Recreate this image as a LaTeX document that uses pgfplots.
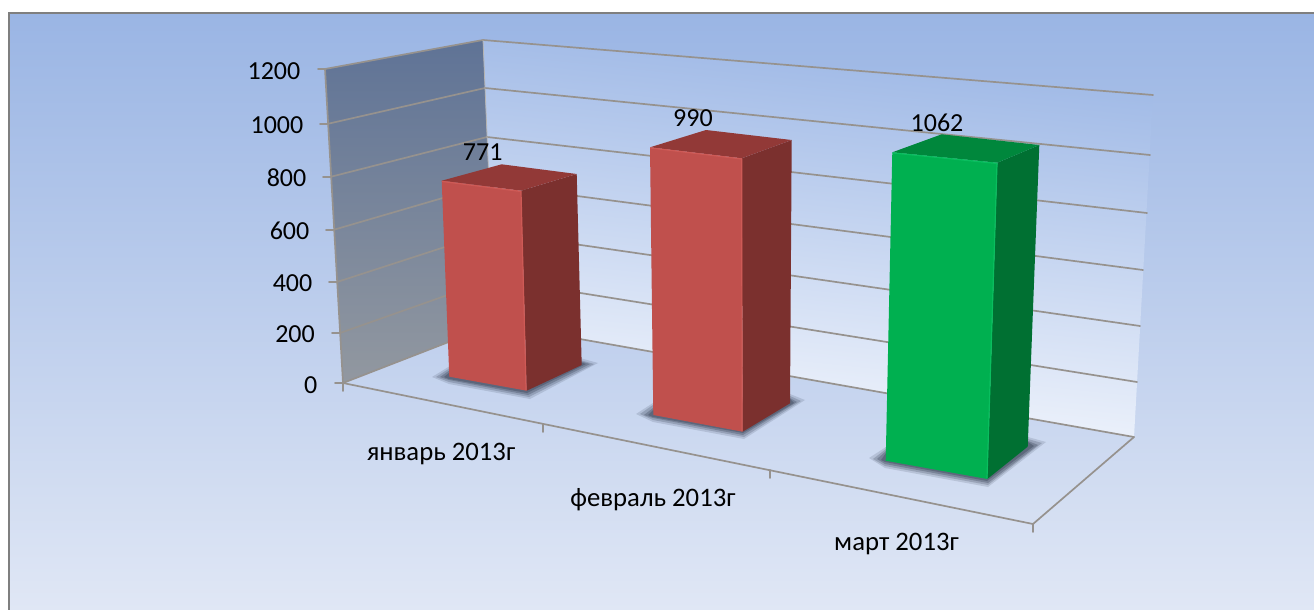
\documentclass[border=0pt]{standalone}
\usepackage{fontspec}
\setmainfont{Carlito}
\usepackage{pgfplots}
\pgfplotsset{compat=1.18}
\definecolor{bgtop}{RGB}{154,181,228}
\definecolor{bgbot}{RGB}{224,231,245}
\definecolor{walltop}{RGB}{95,115,150}
\definecolor{wallbot}{RGB}{146,152,160}
\definecolor{backtop}{RGB}{155,182,229}
\definecolor{backbot}{RGB}{244,247,253}
\definecolor{gridc}{RGB}{150,146,142}
\definecolor{framec}{RGB}{127,127,127}
\definecolor{redF}{RGB}{192,80,77}
\definecolor{redS}{RGB}{123,48,46}
\definecolor{redT}{RGB}{146,57,55}
\definecolor{redE}{RGB}{206,90,86}
\definecolor{grnF}{RGB}{0,176,80}
\definecolor{grnS}{RGB}{0,112,50}
\definecolor{grnT}{RGB}{0,135,60}
\definecolor{grnE}{RGB}{10,190,95}
\definecolor{shad}{RGB}{55,65,85}
\newcommand{\lbl}{\fontsize{26}{31}\selectfont}
\newcommand{\cat}{\fontsize{26.7}{32}\selectfont}
\begin{document}
\begin{tikzpicture}
\begin{axis}[
  at={(0,0)}, anchor=south west,
  scale only axis, width=1314pt, height=610pt,
  xmin=0, xmax=1314, ymin=0, ymax=610, y dir=reverse,
  hide axis, clip=true,
  every axis plot/.append style={line cap=round},
]
% page and background
\addplot[fill=white, draw=none] coordinates {(0,0) (1314,0) (1314,610) (0,610)} --cycle;
\addplot[draw=none, top color=bgtop, bottom color=bgbot] coordinates {(9,13) (1314,13) (1314,610) (9,610)} --cycle;
\addplot[draw=framec, line width=2pt] coordinates {(9,610) (9,13) (1314,13)};
% walls
\addplot[draw=none, top color=walltop, bottom color=wallbot] coordinates {(325,69) (483,40) (495,324) (343,383)} --cycle;
\addplot[draw=none, top color=backtop, bottom color=backbot, shading angle=-6] coordinates {(483,40) (1153,95) (1134,437) (495,324)} --cycle;
% gridlines, left wall
\addplot[draw=gridc, line width=1.7pt] coordinates {(318,69) (325,69) (483,40) (1153,95)};
\addplot[draw=gridc, line width=1.7pt] coordinates {(320,124) (327,124) (485,88) (1150,155)};
\addplot[draw=gridc, line width=1.7pt] coordinates {(323,177) (330,177) (487,137) (1147,213)};
\addplot[draw=gridc, line width=1.7pt] coordinates {(326,230) (333,230) (489,184.5) (1143,270)};
\addplot[draw=gridc, line width=1.7pt] coordinates {(329,282) (337,282) (491,232) (1140,326)};
\addplot[draw=gridc, line width=1.7pt] coordinates {(332,333) (340,333) (493,279) (1137,382)};
\addplot[draw=gridc, line width=1.7pt] coordinates {(335,383) (343,383) (495,324) (1134,437)};
% axis edges and floor
\addplot[draw=gridc, line width=1.7pt] coordinates {(325,69) (343,383) (343,391)};
\addplot[draw=gridc!70!white, line width=0.8pt] coordinates {(483,40) (495,324)};
\addplot[draw=gridc, line width=1.7pt] coordinates {(343,383) (1033,524) (1134,437)};
\addplot[draw=gridc, line width=1.7pt] coordinates {(543,424) (543,432)};
\addplot[draw=gridc, line width=1.7pt] coordinates {(770,470) (770,478)};
\addplot[draw=gridc, line width=1.7pt] coordinates {(1033,524) (1033,532)};
% shadows
\addplot[fill=shad, draw=none, opacity=0.16] coordinates {(432,377) (450,366) (580,358) (598,363) (530,399) (449,384)} --cycle;
\addplot[fill=shad, draw=none, opacity=0.24] coordinates {(436,377) (450,368) (580,360) (594,364) (529,397) (449,382)} --cycle;
\addplot[fill=shad, draw=none, opacity=0.32] coordinates {(440,377) (450,370) (580,361) (590,364) (528,395) (449,380)} --cycle;
\addplot[fill=shad, draw=none, opacity=0.40] coordinates {(444,377) (450,372) (580,362) (586,364) (527,393) (449,379)} --cycle;
\addplot[fill=shad, draw=none, opacity=0.16] coordinates {(636,414) (653,403) (790,394) (805,400) (744,439) (653,422)} --cycle;
\addplot[fill=shad, draw=none, opacity=0.24] coordinates {(640,414) (653,405) (790,396) (801,401) (744,437) (653,420)} --cycle;
\addplot[fill=shad, draw=none, opacity=0.32] coordinates {(644,415) (653,408) (790,398) (797,402) (743,435) (653,418)} --cycle;
\addplot[fill=shad, draw=none, opacity=0.40] coordinates {(648,415) (653,410) (790,399) (794,403) (743,433) (653,417)} --cycle;
\addplot[fill=shad, draw=none, opacity=0.16] coordinates {(869,458) (886,447) (1028,437) (1046,442) (988,487) (885,468)} --cycle;
\addplot[fill=shad, draw=none, opacity=0.24] coordinates {(873,459) (886,449) (1028,439) (1042,443) (988,485) (885,466)} --cycle;
\addplot[fill=shad, draw=none, opacity=0.32] coordinates {(877,459) (886,451) (1028,441) (1038,445) (988,483) (885,464)} --cycle;
\addplot[fill=shad, draw=none, opacity=0.40] coordinates {(881,460) (886,453) (1028,442) (1034,446) (987,481) (885,462)} --cycle;
% bar 1
\addplot[fill=redS, draw=none] coordinates {(521,190.7) (576.7,174) (581.7,365) (526.7,390.7)} --cycle;
\addplot[fill=redT, draw=none] coordinates {(441.7,180.7) (501.7,164.3) (576.7,174) (521,190.7)} --cycle;
\addplot[fill=redF, draw=none] coordinates {(441.7,180.7) (521,190.7) (526.7,390.7) (449.3,376.7)} --cycle;
\addplot[draw=redE, line width=1.2pt] coordinates {(442.5,181.5) (521,191.5) (526,390)};
% bar 2
\addplot[fill=redS, draw=none] coordinates {(741.7,158.3) (791.7,140) (790,403.3) (742.7,431.7)} --cycle;
\addplot[fill=redT, draw=none] coordinates {(650,147.3) (706,130) (791.7,140) (741.7,158.3)} --cycle;
\addplot[fill=redF, draw=none] coordinates {(650,147.3) (741.7,158.3) (742.7,431.7) (653.3,415)} --cycle;
\addplot[draw=redE, line width=1.2pt] coordinates {(651,148) (741.7,159) (742,431)};
% bar 3
\addplot[fill=grnS, draw=none] coordinates {(997.3,162.7) (1039.3,145) (1027.7,446.7) (987.3,479)} --cycle;
\addplot[fill=grnT, draw=none] coordinates {(892.3,152.3) (941.7,134.3) (1039.3,145) (997.3,162.7)} --cycle;
\addplot[fill=grnF, draw=none] coordinates {(892.3,152.3) (997.3,162.7) (987.3,479) (885.7,460.7)} --cycle;
\addplot[draw=grnE, line width=1.2pt] coordinates {(893,153) (997,163.5) (987,478)};
% value labels
\addplot[draw=none, mark=none, point meta=explicit symbolic, nodes near coords,
  nodes near coords style={anchor=center, font=\lbl, text=black, inner sep=0pt}]
  table[x=x, y=y, meta=v] {
x y v
482.7 151.7 771
693 118 990
937 123 1062
};
% category labels
\addplot[draw=none, mark=none, point meta=explicit symbolic, nodes near coords,
  nodes near coords style={anchor=center, font=\cat, text=black, inner sep=0pt}]
  table[x=x, y=y, meta=c, col sep=comma] {
x,y,c
441,454,{январь 2013г}
653,500,{февраль 2013г}
896.5,544,{март 2013г}
};
% value axis labels
\addplot[draw=none, mark=none, point meta=explicit symbolic, nodes near coords,
  nodes near coords style={anchor=east, font=\lbl, text=black, inner sep=0pt}]
  table[x=x, y=y, meta=v] {
x y v
300.5 71 1200
303.5 125 1000
306.5 178 800
309.5 231 600
312.5 283 400
315 334 200
317.5 385 0
};
\end{axis}
\end{tikzpicture}
\end{document}
